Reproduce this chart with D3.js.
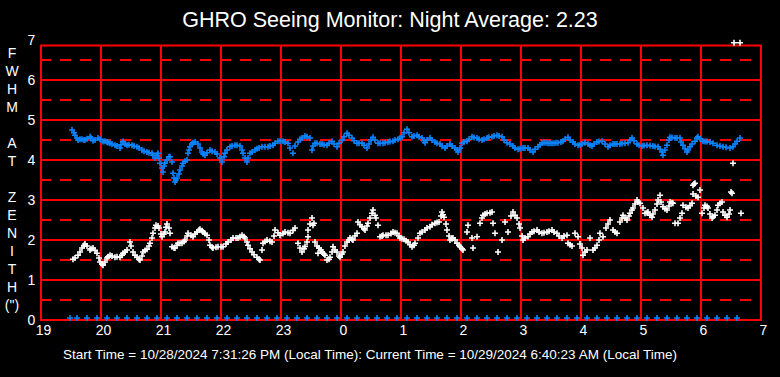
<!DOCTYPE html>
<html><head><meta charset="utf-8">
<script src="https://cdn.jsdelivr.net/npm/d3@7"></script>
<style>html,body{margin:0;padding:0;background:#000;}svg{display:block}</style>
</head><body>
<svg id="c" width="780" height="377"></svg>
<script>
const titleText = "GHRO Seeing Monitor: Night Average: 2.23";
const footerText = "Start Time = 10/28/2024 7:31:26 PM (Local Time): Current Time = 10/29/2024 6:40:23 AM (Local Time)";
const yTitleLetters = ["F","W","H","M","","A","T","","Z","E","N","I","T","H","(\")"];
// x positions are minutes after 19:00
const xTickMinutes = [0,60,120,180,240,300,360,420,480,540,600,660,720];
const xTickLabels = ["19","20","21","22","23","0","1","2","3","4","5","6","7"];
const yTicks = [0,1,2,3,4,5,6,7];
const yHalfTicks = [0.5,1.5,2.5,3.5,4.5,5.5,6.5];

const blueSeries = [[31,4.75],[33,4.68],[34,4.62],[36,4.55],[37,4.5],[39,4.52],[41,4.52],[43,4.5],[44,4.5],[46,4.53],[49,4.58],[50,4.55],[52,4.48],[54,4.5],[57,4.55],[59,4.52],[62,4.46],[64,4.47],[66,4.45],[67,4.44],[69,4.42],[71,4.4],[74,4.37],[76,4.35],[79,4.3],[80,4.38],[82,4.46],[84,4.4],[86,4.37],[88,4.38],[91,4.37],[93,4.35],[96,4.33],[98,4.3],[101,4.25],[103,4.22],[106,4.2],[108,4.18],[111,4.17],[112,4.12],[114,4.05],[116,4.12],[117,4.17],[118,4.05],[119,3.92],[121,3.8],[122,3.7],[123,3.85],[124,3.92],[126,4.0],[128,4.08],[129,4.08],[131,3.95],[132,3.67],[133,3.55],[134,3.45],[135,3.5],[136,3.55],[138,3.65],[139,3.75],[141,3.85],[142,3.92],[144,3.97],[146,4.0],[147,4.17],[148,4.25],[149,4.33],[151,4.4],[152,4.43],[154,4.45],[157,4.4],[159,4.3],[161,4.2],[162,4.15],[164,4.12],[166,4.18],[169,4.25],[171,4.22],[174,4.2],[176,4.15],[179,4.05],[181,3.95],[183,4.08],[184,4.17],[186,4.25],[189,4.33],[191,4.35],[194,4.37],[196,4.37],[199,4.35],[201,4.25],[202,4.17],[204,4.05],[206,3.95],[207,4.05],[209,4.17],[211,4.2],[214,4.25],[216,4.28],[218,4.3],[221,4.33],[224,4.33],[227,4.33],[229,4.35],[232,4.37],[234,4.42],[237,4.47],[239,4.47],[242,4.47],[244,4.45],[247,4.42],[249,4.3],[252,4.17],[254,4.35],[257,4.45],[259,4.52],[261,4.55],[264,4.6],[266,4.58],[269,4.55],[271,4.25],[272,4.35],[274,4.42],[276,4.42],[279,4.4],[281,4.4],[283,4.38],[286,4.37],[288,4.42],[291,4.47],[293,4.4],[296,4.33],[298,4.42],[301,4.5],[303,4.58],[306,4.67],[308,4.62],[311,4.55],[313,4.48],[316,4.42],[318,4.42],[321,4.42],[323,4.37],[326,4.3],[328,4.4],[330,4.5],[332,4.57],[334,4.5],[337,4.42],[339,4.42],[342,4.42],[344,4.43],[347,4.45],[349,4.46],[352,4.47],[354,4.5],[357,4.52],[359,4.55],[361,4.58],[363,4.68],[366,4.77],[368,4.68],[371,4.58],[373,4.6],[376,4.62],[378,4.58],[381,4.55],[383,4.48],[384,4.43],[386,4.5],[389,4.55],[391,4.5],[394,4.45],[396,4.42],[399,4.4],[401,4.35],[404,4.3],[406,4.35],[409,4.4],[411,4.35],[414,4.3],[416,4.25],[417,4.2],[419,4.3],[421,4.42],[423,4.45],[426,4.47],[428,4.52],[431,4.58],[433,4.56],[436,4.55],[438,4.52],[441,4.5],[443,4.52],[446,4.55],[448,4.57],[451,4.58],[453,4.6],[456,4.62],[458,4.6],[461,4.58],[463,4.5],[466,4.43],[469,4.4],[472,4.35],[474,4.3],[477,4.27],[479,4.28],[482,4.3],[484,4.3],[487,4.3],[489,4.25],[492,4.2],[494,4.27],[497,4.33],[499,4.38],[501,4.43],[503,4.43],[505,4.43],[507,4.42],[509,4.42],[511,4.42],[513,4.42],[515,4.43],[517,4.43],[520,4.45],[522,4.47],[524,4.52],[527,4.57],[529,4.5],[532,4.45],[534,4.4],[537,4.37],[539,4.38],[541,4.4],[544,4.43],[547,4.4],[549,4.37],[551,4.35],[553,4.4],[556,4.45],[558,4.46],[561,4.47],[564,4.4],[567,4.33],[569,4.37],[572,4.4],[574,4.4],[576,4.4],[579,4.4],[581,4.41],[584,4.42],[587,4.43],[589,4.5],[591,4.55],[593,4.48],[596,4.4],[598,4.37],[601,4.35],[603,4.36],[606,4.37],[609,4.36],[612,4.35],[614,4.34],[617,4.33],[619,4.27],[621,4.2],[622,4.12],[624,4.25],[626,4.37],[628,4.5],[629,4.57],[631,4.56],[634,4.55],[636,4.55],[639,4.55],[640,4.45],[642,4.37],[644,4.28],[646,4.2],[647,4.25],[649,4.33],[651,4.4],[654,4.47],[656,4.55],[657,4.58],[659,4.53],[662,4.47],[664,4.46],[666,4.46],[669,4.45],[672,4.42],[676,4.37],[679,4.35],[682,4.33],[685,4.32],[689,4.3],[692,4.33],[694,4.4],[696,4.47],[699,4.55]];

const whiteSeries = [[32,1.52],[34,1.55],[37,1.62],[39,1.7],[41,1.8],[43,1.86],[44,1.9],[46,1.85],[49,1.75],[50,1.78],[52,1.8],[54,1.74],[56,1.67],[58,1.55],[59,1.45],[61,1.4],[62,1.37],[64,1.45],[66,1.55],[67,1.58],[69,1.62],[71,1.6],[74,1.57],[76,1.58],[79,1.57],[81,1.62],[82,1.67],[84,1.7],[86,1.75],[89,1.95],[90,1.85],[92,1.7],[94,1.62],[96,1.57],[98,1.52],[99,1.5],[101,1.6],[102,1.7],[104,1.74],[106,1.77],[108,1.85],[109,1.92],[111,2.05],[112,2.17],[114,2.3],[115,2.37],[117,2.35],[118,2.3],[120,2.15],[121,2.08],[123,2.15],[124,2.2],[125,2.32],[126,2.4],[128,2.3],[129,2.17],[131,1.83],[133,1.8],[134,1.8],[136,1.87],[137,1.92],[139,1.92],[141,1.92],[143,1.96],[144,2.0],[146,2.1],[147,2.17],[150,2.12],[152,2.08],[154,2.15],[156,2.2],[158,2.25],[159,2.27],[161,2.23],[162,2.2],[164,2.16],[166,2.12],[168,2.0],[169,1.87],[171,1.82],[172,1.8],[175,1.82],[177,1.83],[180,1.83],[182,1.83],[185,1.9],[187,1.95],[190,2.0],[192,2.05],[195,2.05],[197,2.05],[199,2.08],[201,2.12],[203,2.08],[204,2.05],[206,1.95],[207,1.87],[209,1.78],[211,1.7],[213,1.63],[216,1.57],[218,1.52],[219,1.5],[221,1.75],[222,1.92],[224,1.96],[226,2.0],[229,1.97],[231,1.95],[233,2.1],[234,2.25],[237,2.18],[239,2.12],[242,2.16],[244,2.2],[247,2.18],[249,2.17],[252,2.24],[254,2.3],[257,1.92],[259,1.8],[261,1.7],[263,1.78],[264,1.84],[266,1.95],[267,2.08],[267,2.25],[269,2.4],[271,2.55],[272,2.37],[273,2.42],[274,1.95],[276,1.85],[277,1.67],[278,1.8],[280,1.75],[281,1.7],[283,1.65],[284,1.62],[286,1.5],[288,1.52],[289,1.57],[291,1.7],[292,1.83],[294,1.75],[296,1.7],[298,1.6],[299,1.57],[301,1.65],[302,1.7],[304,1.85],[306,1.95],[308,2.0],[309,2.05],[311,2.02],[312,2.0],[314,2.1],[316,2.17],[317,2.45],[319,2.38],[321,2.33],[323,2.28],[324,2.25],[326,2.35],[327,2.42],[329,2.55],[331,2.67],[332,2.75],[334,2.62],[335,2.55],[337,2.37],[339,2.08],[341,2.1],[342,2.12],[345,2.12],[347,2.12],[350,2.16],[352,2.2],[354,2.18],[356,2.17],[358,2.1],[359,2.05],[361,2.03],[363,2.02],[365,1.98],[367,1.95],[369,1.88],[371,1.83],[373,1.87],[374,1.92],[377,2.05],[379,2.17],[381,2.2],[384,2.25],[386,2.3],[389,2.33],[391,2.38],[394,2.42],[396,2.44],[398,2.45],[400,2.6],[401,2.7],[402,2.63],[403,2.57],[405,2.4],[406,2.25],[408,2.1],[409,2.0],[411,2.03],[412,2.05],[414,2.0],[416,1.92],[418,1.87],[419,1.83],[421,1.78],[422,1.75],[426,2.2],[427,2.37],[431,2.05],[432,1.8],[436,2.08],[439,2.42],[441,2.55],[442,2.62],[444,2.65],[446,2.67],[449,2.68],[451,2.7],[452,2.42],[454,2.17],[457,1.7],[461,2.0],[464,2.45],[467,2.2],[470,2.6],[472,2.7],[474,2.62],[476,2.55],[478,2.4],[479,2.3],[481,2.1],[482,2.0],[484,2.05],[487,2.08],[489,2.15],[491,2.2],[493,2.22],[496,2.25],[498,2.2],[501,2.17],[503,2.18],[506,2.2],[508,2.22],[511,2.25],[513,2.2],[516,2.17],[518,2.1],[521,2.05],[523,2.1],[526,2.12],[527,1.92],[529,1.88],[531,1.85],[534,2.17],[537,2.08],[539,1.9],[541,1.8],[542,1.62],[544,1.7],[546,1.75],[549,2.05],[552,1.75],[554,1.8],[556,1.87],[558,2.0],[559,2.17],[562,2.08],[565,2.3],[567,2.4],[569,2.5],[572,2.25],[574,2.2],[576,2.17],[579,2.45],[581,2.55],[582,2.62],[584,2.55],[586,2.5],[588,2.6],[589,2.67],[591,2.75],[592,2.8],[594,2.9],[596,3.0],[597,2.95],[599,2.92],[602,2.8],[604,2.67],[606,2.68],[607,2.7],[609,2.62],[611,2.57],[612,2.65],[614,2.75],[616,2.9],[617,3.0],[619,3.12],[620,2.95],[622,2.83],[624,2.78],[626,2.75],[628,2.85],[629,2.95],[631,2.93],[632,2.92],[634,2.42],[637,2.42],[639,2.55],[641,2.67],[642,2.87],[645,2.82],[647,2.8],[649,2.86],[651,2.92],[652,3.37],[653,3.4],[654,3.42],[652,3.15],[655,3.1],[657,3.07],[659,3.25],[661,2.67],[663,2.8],[664,2.87],[666,2.84],[667,2.8],[669,2.65],[671,2.55],[672,2.58],[674,2.62],[676,2.75],[677,2.87],[679,2.92],[681,2.95],[682,2.7],[684,2.62],[686,2.57],[688,2.65],[689,2.75],[690,3.2],[691,3.17],[692,3.92],[700,2.67],[693,6.93],[699,6.93]];

const zeroRowT = [29,36,46,56,66,76,86,96,106,116,126,136,146,156,166,176,186,196,206,216,226,236,246,256,266,276,286,296,306,316,326,336,346,356,366,376,386,396,406,416,426,436,446,456,466,476,486,496,506,516,526,536,546,556,566,576,586,596,606,616,626,636,646,656,666,676,686,696];
const zeroRowValue = 0.05;

const svg = d3.select("#c");
const W = 780, H = 377;
svg.append("rect").attr("width", W).attr("height", H).attr("fill", "#000");

const x = d3.scaleLinear().domain([0, 720]).range([41, 761]);
const y = d3.scaleLinear().domain([0, 7]).range([320, 40]);
const plotTop = 45.5;
const red = "#ff0000";
const grid = svg.append("g");

grid.selectAll("line.hd").data(yHalfTicks).join("line")
  .attr("x1", 40).attr("x2", 752)
  .attr("y1", d => y(d)).attr("y2", d => y(d))
  .attr("stroke", red).attr("stroke-width", 2).attr("stroke-dasharray", "11,9");
grid.selectAll("line.hs").data(yTicks.filter(d => d > 0 && d < 7)).join("line")
  .attr("x1", x(0)).attr("x2", x(720))
  .attr("y1", d => y(d)).attr("y2", d => y(d))
  .attr("stroke", red).attr("stroke-width", 2);
grid.selectAll("line.v").data(xTickMinutes).join("line")
  .attr("x1", d => x(d)).attr("x2", d => x(d))
  .attr("y1", plotTop).attr("y2", y(0))
  .attr("stroke", red).attr("stroke-width", 2);
grid.append("rect").attr("x", x(0)).attr("y", plotTop)
  .attr("width", x(720) - x(0)).attr("height", y(0) - plotTop)
  .attr("fill", "none").attr("stroke", red).attr("stroke-width", 2);

const fontFam = "'Liberation Sans', Arial, sans-serif";
const xAxis = svg.append("g").attr("transform", `translate(0,${y(0)})`)
  .call(d3.axisBottom(x).tickValues(xTickMinutes).tickFormat((d, i) => xTickLabels[i]).tickSize(0).tickPadding(5));
xAxis.select(".domain").remove();
xAxis.selectAll("text").attr("fill", "#fff").attr("font-size", 14).attr("font-family", fontFam).attr("x", 2);

const yAxis = svg.append("g").attr("transform", `translate(${x(0)},0)`)
  .call(d3.axisLeft(y).tickValues(yTicks).tickFormat(d3.format("d")).tickSize(0).tickPadding(0));
yAxis.select(".domain").remove();
yAxis.selectAll("text").attr("fill", "#fff").attr("font-size", 14).attr("font-family", fontFam)
  .attr("text-anchor", "middle").attr("x", -9.5);

const cross = "M-3,0H3M0,-3V3";
function plotSeries(data, color) {
  svg.append("g").selectAll("path").data(data).join("path")
    .attr("d", cross)
    .attr("transform", d => `translate(${x(d[0])},${y(d[1])})`)
    .attr("stroke", color).attr("stroke-width", 1.6).attr("fill", "none");
}
plotSeries(zeroRowT.map(t => [t, zeroRowValue]), "#0a84ff");
plotSeries(blueSeries, "#0a84ff");
plotSeries(whiteSeries, "#ffffff");

svg.append("text").attr("x", 390).attr("y", 27).attr("text-anchor", "middle")
  .attr("fill", "#fff").attr("font-size", 21.5).attr("font-family", fontFam).text(titleText);

svg.append("g").selectAll("text").data(yTitleLetters).join("text")
  .attr("x", 12).attr("y", (d, i) => 58 + i * 18).attr("text-anchor", "middle")
  .attr("fill", "#fff").attr("font-size", 14).attr("font-family", fontFam).text(d => d);

svg.append("text").attr("x", 370).attr("y", 359).attr("text-anchor", "middle")
  .attr("fill", "#fff").attr("font-size", 13.5).attr("font-family", fontFam)
  .text(footerText);
</script>
</body></html>
